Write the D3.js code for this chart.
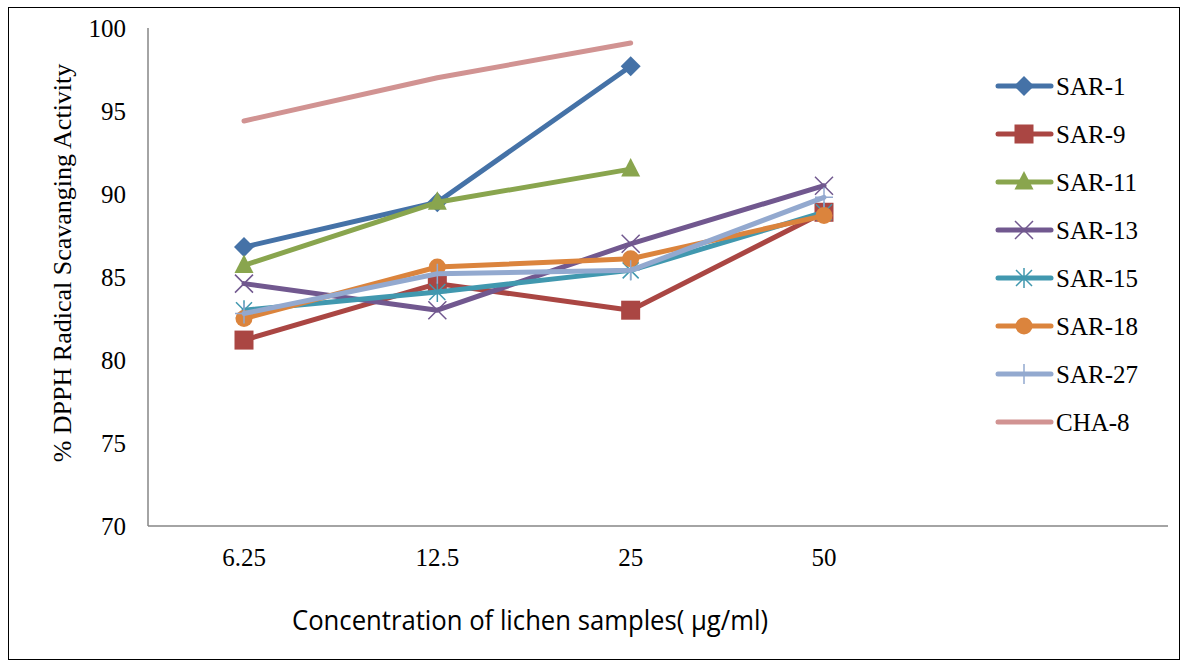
<!DOCTYPE html>
<html>
<head>
<meta charset="utf-8">
<script src="https://cdn.jsdelivr.net/npm/d3@7"></script>
<style>
  body { margin: 0; background: #fff; }
  svg { display: block; }
</style>
</head>
<body>
<svg width="1187" height="667"></svg>
<script>
"use strict";

// categories (concentration, µg/ml)
const concentrations = ["6.25", "12.5", "25", "50"];
const yTicks = [70, 75, 80, 85, 90, 95, 100];

// series values (null = no value)
const sar1 = [86.8, 89.5, 97.7, null];
const sar9 = [81.2, 84.6, 83.0, 88.9];
const sar11 = [85.7, 89.5, 91.5, null];
const sar13 = [84.6, 83.0, 87.0, 90.5];
const sar15 = [83.0, 84.1, 85.4, 88.9];
const sar18 = [82.5, 85.6, 86.1, 88.7];
const sar27 = [82.8, 85.2, 85.4, 89.8];
const cha8 = [94.4, 97.0, 99.1, null];

const seriesNames = ["SAR-1", "SAR-9", "SAR-11", "SAR-13", "SAR-15", "SAR-18", "SAR-27", "CHA-8"];
const seriesValues = [sar1, sar9, sar11, sar13, sar15, sar18, sar27, cha8];
const seriesColors = ["#4572A7", "#AA4643", "#89A54E", "#71588F", "#4198AF", "#DB843D", "#93A9CF", "#D19392"];
const seriesMarkers = ["diamond", "square", "triangle", "x", "star", "circle", "plus", "none"];

const serif = "'Liberation Serif', 'Times New Roman', serif";
const svg = d3.select("svg");

// outer frame
svg.append("rect")
    .attr("x", 8.5).attr("y", 7.5)
    .attr("width", 1171).attr("height", 652)
    .attr("fill", "none")
    .attr("stroke", "#000")
    .attr("stroke-width", 1);

const x = d3.scalePoint().domain(concentrations).range([244, 824]);
const y = d3.scaleLinear().domain([70, 100]).range([526, 28]);

const axisX0 = 148, axisX1 = 1168;

// y axis
svg.append("line")
    .attr("x1", axisX0).attr("x2", axisX0)
    .attr("y1", y(100)).attr("y2", y(70))
    .attr("stroke", "#868686").attr("stroke-width", 1.5);

svg.append("g")
    .selectAll("text")
    .data(yTicks)
    .join("text")
    .attr("x", 126)
    .attr("y", d => y(d))
    .attr("dy", "0.35em")
    .attr("text-anchor", "end")
    .attr("font-family", serif)
    .attr("font-size", 25)
    .text(d => d);

// x axis
svg.append("line")
    .attr("x1", axisX0).attr("x2", axisX1)
    .attr("y1", y(70)).attr("y2", y(70))
    .attr("stroke", "#868686").attr("stroke-width", 1.5);

svg.append("g")
    .selectAll("text")
    .data(concentrations)
    .join("text")
    .attr("x", d => x(d))
    .attr("y", 557)
    .attr("dy", "0.35em")
    .attr("text-anchor", "middle")
    .attr("font-family", serif)
    .attr("font-size", 25)
    .text(d => d);

// axis titles
svg.append("text")
    .attr("transform", "translate(71,263) rotate(-90)")
    .attr("text-anchor", "middle")
    .attr("font-family", serif)
    .attr("font-size", 26)
    .text("% DPPH Radical Scavanging Activity");

svg.append("text")
    .attr("x", 292)
    .attr("y", 630)
    .attr("textLength", 476)
    .attr("lengthAdjust", "spacingAndGlyphs")
    .attr("font-family", "'Open Sans', sans-serif")
    .attr("font-size", 28)
    .text("Concentration of lichen samples( µg/ml)");

// marker drawing
function drawMarker(sel, type, color) {
    if (type === "diamond") {
        sel.append("path").attr("d", "M0,-10L10,0L0,10L-10,0Z").attr("fill", color);
    } else if (type === "square") {
        sel.append("rect").attr("x", -9.5).attr("y", -9.5).attr("width", 19).attr("height", 19).attr("fill", color);
    } else if (type === "triangle") {
        sel.append("path").attr("d", "M0,-11L9.5,7.5L-9.5,7.5Z").attr("fill", color);
    } else if (type === "circle") {
        sel.append("circle").attr("r", 8.5).attr("fill", color);
    } else if (type === "x") {
        sel.append("path").attr("d", "M-9,-9L9,9M-9,9L9,-9").attr("stroke", color).attr("stroke-width", 1.5);
    } else if (type === "star") {
        sel.append("path").attr("d", "M-8,-8L8,8M-8,8L8,-8M0,-10L0,10").attr("stroke", color).attr("stroke-width", 1.5);
    } else if (type === "plus") {
        sel.append("path").attr("d", "M0,-10L0,10M-9,0L9,0").attr("stroke", color).attr("stroke-width", 1.5);
    }
}

const line = d3.line()
    .defined(d => d.v !== null)
    .x(d => x(d.c))
    .y(d => y(d.v));

const plot = svg.append("g");

seriesNames.forEach((name, i) => {
    const pts = seriesValues[i].map((v, j) => ({ c: concentrations[j], v: v }));
    const g = plot.append("g");
    g.append("path")
        .datum(pts)
        .attr("fill", "none")
        .attr("stroke", seriesColors[i])
        .attr("stroke-width", 5)
        .attr("stroke-linejoin", "round")
        .attr("stroke-linecap", "round")
        .attr("d", line);
    pts.filter(d => d.v !== null).forEach(d => {
        const m = g.append("g").attr("transform", `translate(${x(d.c)},${y(d.v)})`);
        drawMarker(m, seriesMarkers[i], seriesColors[i]);
    });
});

// legend
const legend = svg.append("g");
seriesNames.forEach((name, i) => {
    const ly = 86 + i * 48;
    const row = legend.append("g").attr("transform", `translate(0,${ly})`);
    row.append("line")
        .attr("x1", 998).attr("x2", 1051)
        .attr("y1", 0).attr("y2", 0)
        .attr("stroke", seriesColors[i])
        .attr("stroke-width", 5)
        .attr("stroke-linecap", "round");
    const m = row.append("g").attr("transform", "translate(1024,0)");
    drawMarker(m, seriesMarkers[i], seriesColors[i]);
    row.append("text")
        .attr("x", 1056)
        .attr("y", 0)
        .attr("dy", "0.35em")
        .attr("font-family", serif)
        .attr("font-size", 25)
        .text(name);
});
</script>
</body>
</html>
